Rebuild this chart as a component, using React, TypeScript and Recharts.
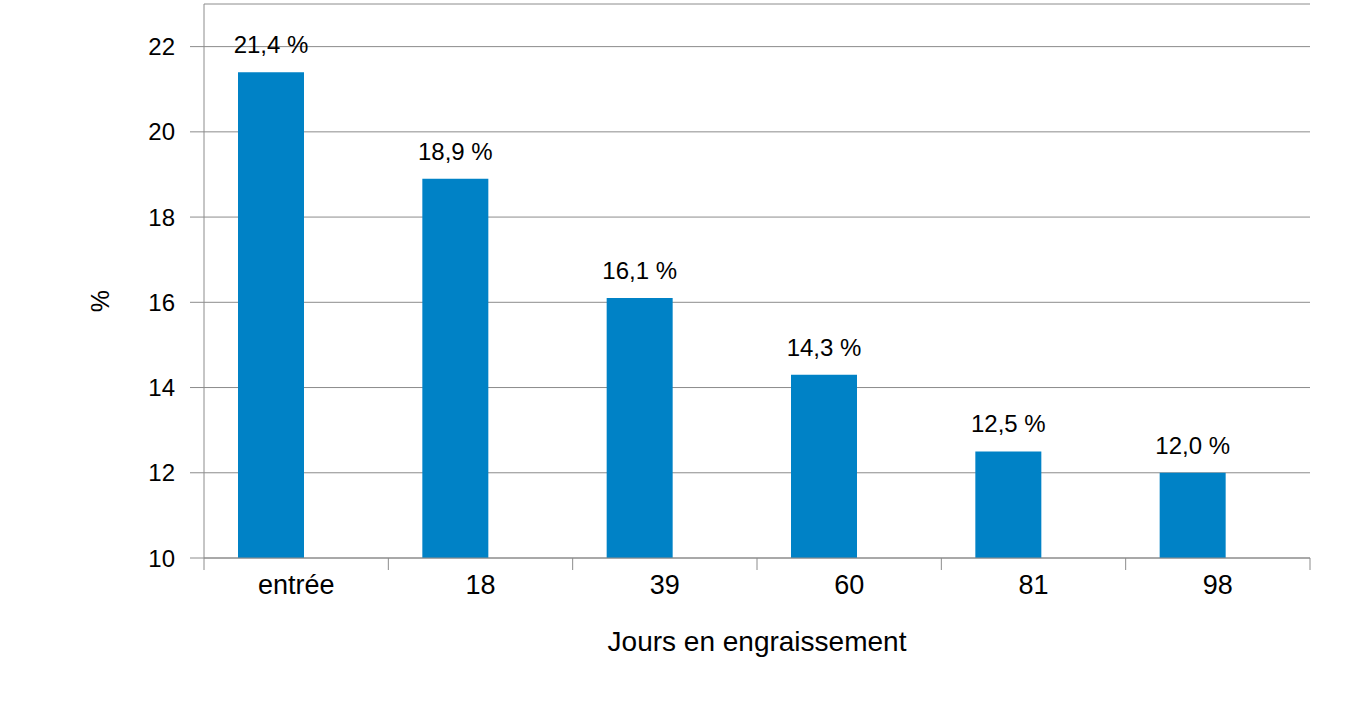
import React from "react";
import {
  BarChart,
  Bar,
  XAxis,
  YAxis,
  CartesianGrid,
  LabelList,
  Label,
} from "recharts";

// Jours en engraissement (category labels)
const days = ["entrée", "18", "39", "60", "81", "98"];
// % values
const percents = [21.4, 18.9, 16.1, 14.3, 12.5, 12.0];
// the source chart keeps an empty second series slot, which pushes the bars left of centre
const emptySeries = [null, null, null, null, null, null];
const yTicks = [10, 12, 14, 16, 18, 20, 22];

const FONT = "'Liberation Sans', Arial, sans-serif";
const GRID = "#8c8c8c";
const BLUE = "#0082c6";
const X_TICK_MARGIN = 17;
const X_TICK_LEN = 12;

const data = days.map((d, i) => ({
  day: d,
  value: percents[i],
  vide: emptySeries[i],
}));

const fmt = (v: number) => v.toFixed(1).replace(".", ",") + " %";

const YTitle = ({ viewBox }: any) => {
  const cx = 100;
  const cy = viewBox.y + viewBox.height / 2 + 20;
  return (
    <text
      x={cx}
      y={cy}
      transform={`rotate(-90, ${cx}, ${cy})`}
      textAnchor="middle"
      dominantBaseline="central"
      fontSize={25}
      fontFamily={FONT}
      fill="#000"
    >
      %
    </text>
  );
};

// category label at the band centre, tick marks on the band edges (Excel style)
const CatTick = ({ x, y, payload, index }: any) => {
  const half = payload.offset || 0;
  const axisY = y - X_TICK_MARGIN;
  const last = index === days.length - 1;
  return (
    <g>
      <line x1={x - half} x2={x - half} y1={axisY} y2={axisY + X_TICK_LEN} stroke={GRID} />
      {last && (
        <line x1={x + half} x2={x + half} y1={axisY} y2={axisY + X_TICK_LEN} stroke={GRID} />
      )}
      <text
        x={x}
        y={y}
        dy="0.71em"
        textAnchor="middle"
        fill="#000"
        fontSize={27}
        fontFamily={FONT}
      >
        {payload.value}
      </text>
    </g>
  );
};

export default function App() {
  return (
    <div style={{ position: "absolute", left: 0, top: 0, background: "#fff" }}>
      <BarChart
        width={1359}
        height={723}
        data={data}
        margin={{ top: 4, right: 49, bottom: 0, left: 0 }}
        barSize={66}
        barGap={-16}
      >
        <CartesianGrid vertical={false} stroke={GRID} strokeWidth={1} />
        <XAxis
          dataKey="day"
          height={165}
          tickLine={false}
          tickSize={0}
          tickMargin={X_TICK_MARGIN}
          axisLine={{ stroke: GRID }}
          tick={CatTick}
          interval={0}
        >
          <Label
            value="Jours en engraissement"
            position="insideBottom"
            offset={72}
            fill="#000"
            fontSize={28}
            fontFamily={FONT}
          />
        </XAxis>
        <YAxis
          width={204}
          domain={[10, 23]}
          ticks={yTicks}
          allowDataOverflow
          interval={0}
          tickSize={14}
          tickMargin={15}
          tickLine={{ stroke: GRID }}
          axisLine={{ stroke: GRID }}
          tick={{ fill: "#000", fontSize: 24, fontFamily: FONT }}
          label={{ content: YTitle }}
        />
        <Bar dataKey="value" fill={BLUE} isAnimationActive={false}>
          <LabelList
            dataKey="value"
            position="top"
            offset={19}
            formatter={(v: any) => fmt(Number(v))}
            fill="#000"
            fontSize={24}
            fontFamily={FONT}
          />
        </Bar>
        <Bar dataKey="vide" fill={BLUE} isAnimationActive={false} />
      </BarChart>
    </div>
  );
}
